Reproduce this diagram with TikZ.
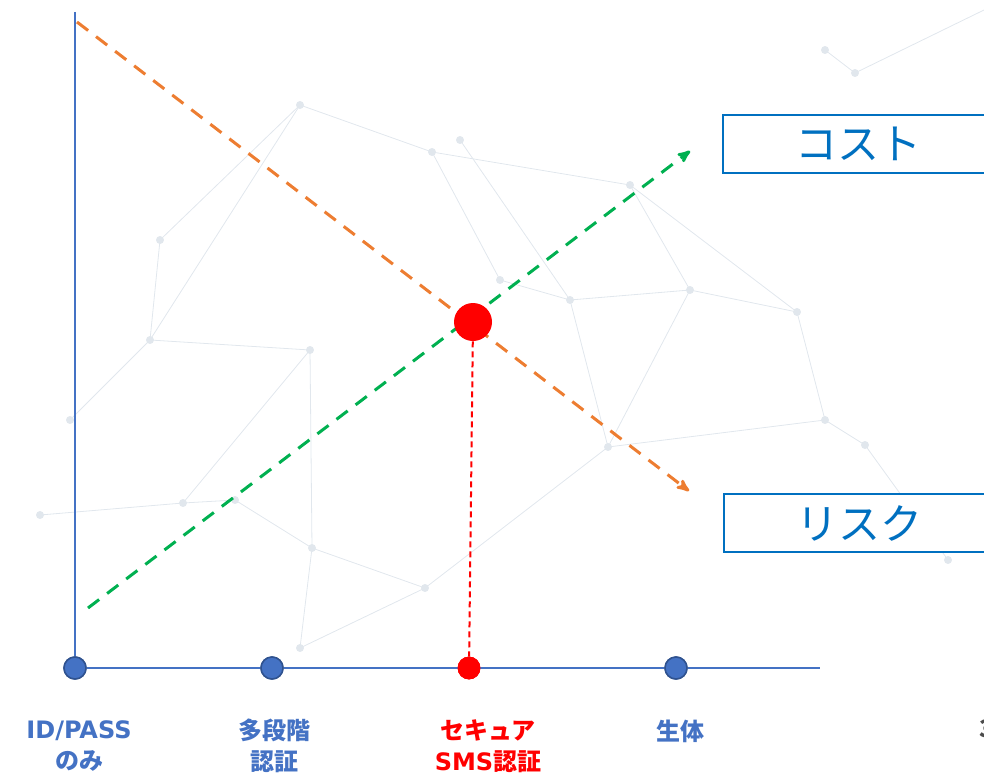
\documentclass[tikz,border=0pt]{standalone}
\usepackage{fontspec}
\newfontfamily\jp{Noto Sans CJK JP}
\newfontfamily\lat{DejaVu Sans}
\usetikzlibrary{arrows}
\definecolor{axisblue}{HTML}{4472C4}
\definecolor{dotedge}{HTML}{2F528F}
\definecolor{boxblue}{HTML}{0070C0}
\definecolor{costorange}{HTML}{ED7D31}
\definecolor{riskgreen}{HTML}{00B050}
\definecolor{netgray}{HTML}{E1E7ED}

\begin{document}
\begin{tikzpicture}[x=1pt,y=-1pt,
  thick,
  dot/.style={circle,fill=axisblue,draw=dotedge,line width=1.5pt,minimum size=22pt,inner sep=0pt},
  reddot/.style={circle,fill=red,draw=red,minimum size=22pt,inner sep=0pt},
  bigdot/.style={circle,fill=red,minimum size=38pt,inner sep=0pt},
  tick/.style={font=\jp\bfseries\fontsize{24}{31}\selectfont,text=axisblue,align=center},
  legend/.style={draw=boxblue,line width=2pt,fill=white,minimum height=58pt,text=boxblue,
    font=\jp\fontsize{42}{46}\selectfont,minimum width=270pt,inner sep=0pt},
  trend/.style={line width=3pt,dash pattern=on 14pt off 10pt,-stealth'},
  net/.style={netgray,line width=0.8pt}]
  \useasboundingbox (0,0) rectangle (984,776);
  % faint network in the back
  \foreach \a/\b in {300/105,432/152,460/140,630/185,570/300,690/290,797/312,
    825/420,865/445,608/447,150/340,310/350,183/503,312/548,300/648,425/588,
    235/500,40/515,825/50,855/73,948/560,500/280,160/240,70/420}
    \fill[netgray] (\a,\b) circle (4pt);
  \draw[net] (160,240) -- (300,105) -- (432,152) -- (630,185) -- (797,312) -- (825,420) -- (865,445) -- (948,560);
  \draw[net] (300,105) -- (150,340) -- (310,350) -- (183,503) -- (40,515);
  \draw[net] (432,152) -- (500,280) -- (570,300) -- (690,290) -- (797,312);
  \draw[net] (460,140) -- (570,300) -- (608,447) -- (825,420);
  \draw[net] (310,350) -- (312,548) -- (425,588) -- (608,447);
  \draw[net] (183,503) -- (235,500) -- (312,548) -- (300,648);
  \draw[net] (70,420) -- (150,340) -- (160,240);
  \draw[net] (825,50) -- (855,73) -- (984,10);
  \draw[net] (630,185) -- (690,290) -- (608,447);
  \draw[net] (425,588) -- (300,648);
  % axes
  \coordinate (ytop) at (75,12);
  \coordinate (xend) at (820,668);
  \node[dot] (idpass) at (75,668) {};
  \node[dot] (multi) at (272,668) {};
  \node[reddot] (sms) at (469,668) {};
  \node[dot] (bio) at (676,668) {};
  \draw[axisblue,line width=1.5pt] (ytop) -- (idpass) -- (multi) -- (sms) -- (bio) -- (xend);
  \node[dot] at (idpass) {};
  \node[dot] at (multi) {};
  \node[reddot] at (sms) {};
  \node[dot] at (bio) {};
  % trends
  \coordinate (cstart) at (77,22);
  \coordinate (cend) at (689,491);
  \coordinate (rstart) at (88,608);
  \coordinate (rend) at (690,151);
  \draw[trend,costorange] (cstart) -- (cend);
  \draw[trend,riskgreen] (rstart) -- (rend);
  \node[bigdot] (best) at (473,322) {};
  \draw[red,line width=2pt,dash pattern=on 6pt off 4pt] (best) -- (sms);
  % boxes
  \node[legend] (cost) at (858,144) {コスト};
  \node[legend] (risk) at (859,523) {リスク};
  % labels
  \node[tick] (l1) at (79,746) {{\lat\bfseries ID/PASS}\\のみ};
  \node[tick] (l2) at (274,746) {多段階\\認証};
  \node[tick,text=red] (l3) at (488,746) {セキュア\\{\lat\bfseries SMS}認証};
  \node[tick,anchor=north] (l4) at (680,716) {生体};
  \node[tick,text=black!70,anchor=north west] (page) at (976,716) {3};
\end{tikzpicture}
\end{document}
